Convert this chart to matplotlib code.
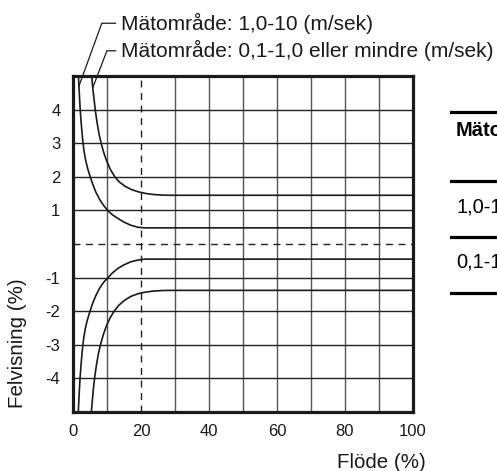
import matplotlib
matplotlib.use("Agg")
import matplotlib.pyplot as plt
from matplotlib.lines import Line2D

plt.rcParams['font.family'] = ['Liberation Sans', 'DejaVu Sans']

# ---- data ----
# range 1,0-10 m/sek (inner curves)
a_up_x = [1.6, 1.75, 1.95, 2.15, 2.45, 2.8, 3.2, 3.7, 4.3, 5.0, 5.8, 6.7, 7.8, 9.0, 10.2, 11.6, 13.2, 15.0, 17.0, 19.0, 21.0, 100]
a_up_y = [5.0, 4.7, 4.3, 3.95, 3.55, 3.15, 2.8, 2.5, 2.25, 2.02, 1.78, 1.55, 1.33, 1.15, 1.0, 0.87, 0.76, 0.65, 0.56, 0.5, 0.48, 0.48]
a_lo_x = [1.55, 1.7, 1.9, 2.1, 2.4, 2.75, 3.15, 3.65, 4.25, 5.0, 5.8, 6.7, 7.8, 9.0, 10.3, 11.7, 13.3, 15.0, 17.0, 19.0, 21.0, 100]
a_lo_y = [-5.0, -4.7, -4.3, -3.95, -3.55, -3.15, -2.8, -2.5, -2.25, -2.0, -1.76, -1.54, -1.32, -1.14, -1.0, -0.85, -0.72, -0.62, -0.53, -0.48, -0.45, -0.45]
# range 0,1-1,0 eller mindre m/sek (outer curves)
b_up_x = [5.5, 5.8, 6.2, 6.6, 7.1, 7.7, 8.4, 9.2, 10.1, 11.1, 12.3, 13.7, 15.3, 17.2, 19.3, 21.6, 24.0, 26.5, 29.0, 100]
b_up_y = [5.0, 4.65, 4.3, 3.95, 3.6, 3.25, 2.95, 2.67, 2.42, 2.2, 2.0, 1.84, 1.72, 1.62, 1.55, 1.5, 1.47, 1.455, 1.45, 1.45]
b_lo_x = [5.4, 5.7, 6.0, 6.4, 6.9, 7.5, 8.2, 9.0, 9.9, 10.9, 12.1, 13.5, 15.1, 17.0, 19.1, 21.4, 23.8, 26.3, 29.0, 100]
b_lo_y = [-5.0, -4.65, -4.3, -3.95, -3.6, -3.25, -2.95, -2.67, -2.42, -2.2, -2.0, -1.82, -1.68, -1.56, -1.48, -1.43, -1.4, -1.385, -1.38, -1.38]

x_ticks = [0, 20, 40, 60, 80, 100]
y_ticks = [-4, -3, -2, -1, 1, 2, 3, 4]
x_grid = [10, 30, 40, 50, 60, 70, 80, 90]
x_dash = [20]
y_grid = [-4, -3, -2, -1, 1, 2, 3, 4]
y_dash = [0]

label_1 = "Mätområde: 1,0-10 (m/sek)"
label_2 = "Mätområde: 0,1-1,0 eller mindre (m/sek)"
table_head = "Mätområde"
table_rows = ["1,0-10", "0,1-1,0"]

W, H = 497, 471
fig = plt.figure(figsize=(W / 100, H / 100), dpi=100)
ax = fig.add_axes([73 / W, 1 - 412 / H, 340 / W, 336 / H])
ax.set_xlim(0, 100)
ax.set_ylim(-5, 5)

for g in x_grid:
    ax.axvline(g, color='#555555', lw=1.0, zorder=1)
for g in x_dash:
    ax.axvline(g, color='#222222', lw=1.0, ls=(0, (5, 4)), zorder=1)
for g in y_grid:
    ax.axhline(g, color='#222222', lw=1.0, zorder=1)
for g in y_dash:
    ax.axhline(g, color='#222222', lw=1.0, ls=(0, (5, 4)), zorder=1)

for xs, ys in [(a_up_x, a_up_y), (a_lo_x, a_lo_y), (b_up_x, b_up_y), (b_lo_x, b_lo_y)]:
    ax.plot(xs, ys, color='#1a1a1a', lw=1.2, zorder=3,
            solid_joinstyle='round', solid_capstyle='round')

for s in ax.spines.values():
    s.set_linewidth(2.3)
    s.set_color('#1a1a1a')

ax.set_xticks(x_ticks)
ax.set_yticks(y_ticks)
ax.set_yticklabels([str(v) for v in y_ticks])
ax.tick_params(length=0, labelsize=12, colors='#1a1a1a')
ax.tick_params(axis='x', pad=9)
ax.tick_params(axis='y', pad=9)

ax.set_xlabel("Flöde (%)", fontsize=14.8, color='#1a1a1a', va='center', ha='center')
ax.xaxis.set_label_coords(0.906, -0.149)
ax.set_ylabel("Felvisning (%)", fontsize=14.8, color='#1a1a1a', va='center', ha='center')
ax.yaxis.set_label_coords(-0.162, 0.205)

# leader labels
ax.annotate(label_1, xy=(a_up_x[1], a_up_y[1]), xytext=(14.2, 6.57),
            fontsize=15, va='center', ha='left', color='#1a1a1a',
            annotation_clip=False,
            arrowprops=dict(arrowstyle='-', color='#1a1a1a', lw=0.9,
                            shrinkA=2, shrinkB=0,
                            connectionstyle='angle,angleA=0,angleB=70,rad=0'))
ax.annotate(label_2, xy=(b_up_x[1], b_up_y[1]), xytext=(14.2, 5.75),
            fontsize=15, va='center', ha='left', color='#1a1a1a',
            annotation_clip=False,
            arrowprops=dict(arrowstyle='-', color='#1a1a1a', lw=0.9,
                            shrinkA=2, shrinkB=0,
                            connectionstyle='angle,angleA=0,angleB=69,rad=0'))

# partially visible table at right edge (cut by the image edge as in the reference)
def fx(px):
    return px / W

def fy(py):
    return 1 - py / H

for py in [111.7, 180.7, 236.7, 293.3]:
    fig.add_artist(Line2D([fx(451), fx(500)], [fy(py), fy(py)], color='black', lw=2.3))
fig.text(fx(456), fy(131), table_head, fontsize=14.5, fontweight='bold', va='center', ha='left')
fig.text(fx(456), fy(207), table_rows[0], fontsize=14.5, va='center', ha='left')
fig.text(fx(456), fy(262), table_rows[1], fontsize=14.5, va='center', ha='left')

fig.savefig("out.png", dpi=100)
